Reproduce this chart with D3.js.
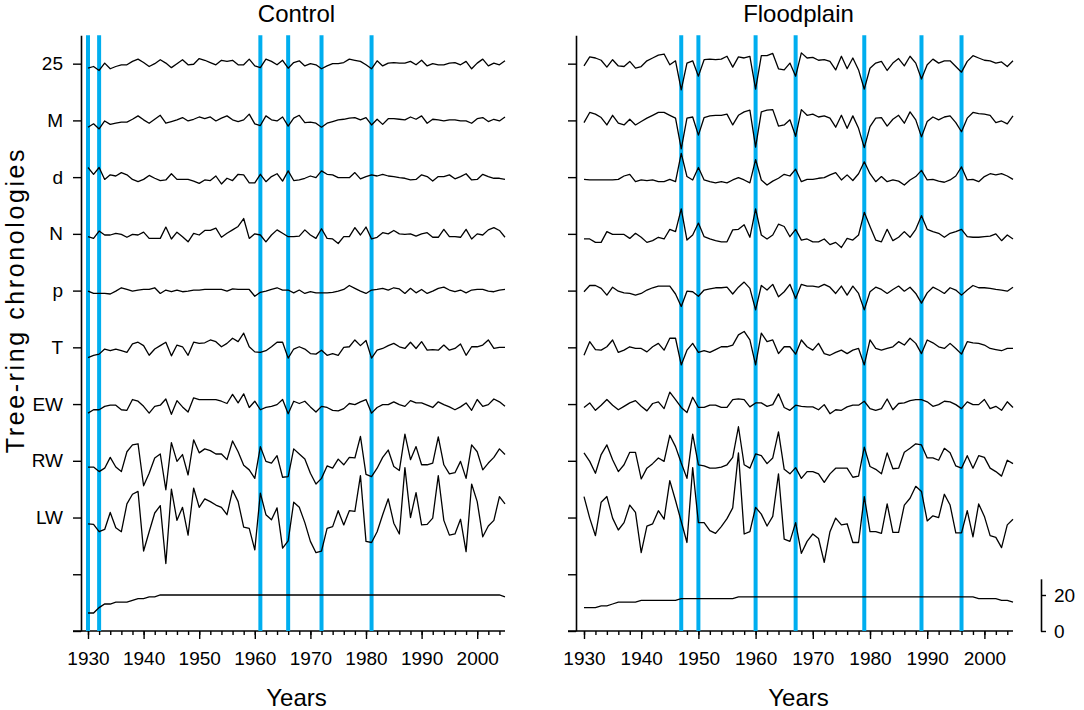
<!DOCTYPE html>
<html>
<head>
<meta charset="utf-8">
<script src="https://cdn.jsdelivr.net/npm/d3@7"></script>
<style>
  body { margin: 0; background: #fff; }
  svg { font-family: "Liberation Sans", Arial, sans-serif; }
</style>
</head>
<body>
<div id="chart"></div>
<script>
// years covered by every chronology
const years = d3.range(1930, 2006);
const chronLabels = ["25", "M", "d", "N", "p", "T", "EW", "RW", "LW"];

// event years marked in blue
const controlEvents = [1930, 1932, 1961, 1966, 1972, 1981];
const floodEvents = [1947, 1950, 1960, 1967, 1979, 1989, 1996];

// Control site chronologies (index values, 1930-2005)
const control25 = [
  0.92,0.95,0.88,1.01,0.91,0.95,0.98,0.98,1.04,1.08,
  1.02,0.95,1.00,1.07,1.01,0.93,1.00,1.07,0.98,0.99,
  1.09,1.06,1.02,0.98,1.06,1.04,1.06,0.98,0.98,1.08,
  0.96,0.93,1.08,1.04,0.98,1.06,0.92,1.02,1.05,0.96,
  1.00,0.98,0.91,0.96,1.00,1.00,1.02,1.08,1.06,1.04,
  0.98,0.91,1.05,0.96,1.01,1.02,1.01,1.01,1.04,0.98,
  1.06,0.96,1.00,0.98,0.98,1.01,1.02,0.98,1.04,0.91,
  1.01,1.08,0.96,1.01,0.98,1.05];
const controlM = [
  0.88,0.94,0.85,0.99,0.93,0.95,0.97,0.97,1.02,1.08,
  1.01,0.95,1.02,1.09,0.95,0.98,1.01,1.05,0.99,1.02,
  1.06,1.03,1.06,0.99,1.04,1.08,1.01,0.98,1.01,1.11,
  0.94,0.91,1.08,1.01,0.99,1.06,0.90,1.04,1.09,0.96,
  0.97,0.95,0.88,0.95,0.98,1.01,1.02,1.04,1.05,1.01,
  1.05,0.92,1.02,0.93,1.03,1.03,1.02,1.01,1.06,1.02,
  1.08,0.95,1.02,1.01,0.99,1.01,1.01,0.99,0.99,0.95,
  1.03,1.05,0.98,1.02,0.99,1.06];
const controlD = [
  1.17,1.05,1.17,0.96,1.04,1.02,1.08,1.04,0.96,0.92,
  0.96,1.03,0.98,0.94,0.95,1.06,0.96,0.96,0.96,0.93,
  0.89,0.95,0.94,1.02,0.88,0.98,0.94,1.05,1.04,0.90,
  0.90,1.05,0.92,1.01,1.06,0.93,1.11,0.94,0.95,0.98,
  1.02,0.99,1.11,1.05,1.04,0.99,0.99,0.99,1.08,0.97,
  1.01,1.04,1.02,1.05,1.02,1.01,0.99,0.98,0.95,0.96,
  1.04,1.01,0.93,1.01,1.01,1.04,0.97,1.01,1.06,0.95,
  0.96,1.05,1.01,0.98,0.98,0.96];
const controlN = [
  0.95,0.92,1.05,0.98,0.98,1.01,0.99,0.94,0.99,0.98,
  1.03,0.92,0.92,0.92,1.12,0.91,1.03,0.95,0.86,1.01,
  0.98,1.06,1.06,1.10,0.94,1.01,1.07,1.13,1.27,0.92,
  1.00,0.98,0.86,0.98,1.07,1.01,0.95,0.95,0.96,1.07,
  0.98,0.92,1.09,0.92,0.91,0.83,0.95,0.95,1.11,0.98,
  1.12,0.91,0.94,1.02,1.00,1.06,1.00,0.99,1.00,0.96,
  1.00,1.02,0.94,0.94,1.08,0.95,0.95,0.94,1.08,0.91,
  1.00,0.98,1.07,1.11,1.06,0.94];
const controlP = [
  0.99,0.95,0.95,0.95,0.94,0.99,1.05,1.02,0.99,1.01,
  1.02,1.02,1.05,0.95,1.01,0.98,1.01,0.98,0.99,1.01,
  1.01,1.02,1.02,1.02,1.02,0.99,1.03,1.02,1.02,1.02,
  0.90,0.97,0.99,1.02,1.05,1.01,1.01,0.96,1.01,0.95,
  0.98,0.96,0.96,0.96,0.97,0.99,1.02,1.09,1.04,0.99,
  0.95,1.01,1.02,1.04,1.01,1.05,1.03,0.95,1.04,0.96,
  1.02,0.95,0.99,1.04,1.06,1.01,0.98,1.01,0.96,1.01,
  1.02,1.02,0.99,0.98,1.01,1.02];
const controlT = [
  0.82,0.86,0.88,0.97,0.94,0.97,0.94,0.91,1.06,1.09,
  1.03,0.86,0.97,1.03,1.09,0.85,1.04,1.01,0.86,1.09,
  1.07,1.08,1.13,1.10,1.01,1.07,1.16,1.10,1.25,1.01,
  0.92,0.91,0.94,1.01,1.09,1.09,0.81,0.97,1.01,0.97,
  0.89,0.88,0.95,0.86,0.89,0.86,1.00,1.01,1.13,1.03,
  1.12,0.81,0.95,0.98,1.03,1.07,1.01,0.98,1.09,0.98,
  1.10,0.95,0.96,0.95,1.04,0.95,0.98,1.06,0.86,1.01,
  1.01,1.04,1.13,0.98,1.00,1.00];
const controlEW = [
  0.84,0.90,0.90,0.96,0.98,0.98,0.90,0.89,1.08,1.05,
  0.96,0.84,0.96,0.98,1.09,0.82,1.06,0.95,0.86,1.11,
  1.08,1.08,1.08,1.08,1.05,1.01,1.17,1.02,1.18,0.94,
  1.05,0.90,0.94,0.96,0.99,1.08,0.83,1.05,1.01,1.05,
  0.95,0.86,0.96,0.94,0.89,0.88,0.92,1.01,0.99,1.04,
  1.08,0.84,0.94,0.99,0.99,1.04,0.99,0.96,1.06,1.02,
  1.02,0.98,0.94,1.04,0.99,0.95,0.90,0.95,1.02,0.89,
  1.08,0.96,0.99,1.09,1.04,0.96];
const controlRW = [
  0.89,0.89,0.81,0.87,1.06,0.89,0.81,1.16,1.28,1.30,
  0.56,0.78,1.05,1.12,0.49,1.32,0.99,1.11,0.75,1.37,
  1.14,1.21,1.18,1.12,1.12,1.02,1.35,1.16,0.92,0.84,
  0.69,1.25,0.99,0.96,1.09,0.71,0.72,1.21,1.12,1.03,
  0.78,0.59,0.69,0.91,0.87,1.03,0.93,1.06,1.05,1.43,
  0.76,0.72,0.87,1.06,1.19,0.90,0.83,1.47,1.02,1.25,
  0.93,0.93,0.96,1.42,0.93,0.77,0.79,0.99,0.69,1.28,
  1.16,0.84,0.96,1.06,1.21,1.11];
const controlLW = [
  0.89,0.88,0.75,0.79,1.09,0.82,0.75,1.24,1.41,1.46,
  0.41,0.75,1.08,1.21,0.19,1.50,0.95,1.18,0.69,1.52,
  1.18,1.33,1.28,1.22,1.18,1.05,1.48,1.28,0.83,0.81,
  0.43,1.43,1.05,0.96,1.17,0.46,0.59,1.27,1.18,0.91,
  0.58,0.38,0.41,0.81,0.84,1.12,0.87,1.12,1.11,1.74,
  0.58,0.56,0.75,1.05,1.33,0.90,0.71,1.88,1.00,1.44,
  0.87,0.88,0.99,1.74,0.95,0.69,0.71,0.97,0.40,1.59,
  1.28,0.66,0.85,0.95,1.37,1.24];
const controlDepth = [
  10,10,13,15,15,16,16,16,17,18,
  18,19,19,20,20,20,20,20,20,20,
  20,20,20,20,20,20,20,20,20,20,
  20,20,20,20,20,20,20,20,20,20,
  20,20,20,20,20,20,20,20,20,20,
  20,20,20,20,20,20,20,20,20,20,
  20,20,20,20,20,20,20,20,20,20,
  20,20,20,20,20,19];

// Floodplain site chronologies (index values, 1930-2005)
const flood25 = [
  0.96,1.12,1.10,1.06,0.94,1.07,0.96,0.95,1.04,0.92,
  0.95,1.05,1.10,1.15,1.17,0.98,1.05,0.54,1.01,1.05,
  0.78,1.07,1.08,1.07,1.08,1.13,0.94,1.12,1.10,1.13,
  0.55,1.14,1.14,1.18,0.91,0.89,1.01,0.78,1.19,1.10,
  1.11,1.06,1.07,1.04,0.89,1.13,0.91,1.10,0.89,0.55,
  0.92,1.01,1.04,0.88,1.01,1.09,0.96,1.13,1.01,0.73,
  0.98,1.08,1.01,1.05,1.05,0.95,0.85,1.04,1.14,1.10,
  1.06,1.05,1.01,1.03,0.95,1.05];
const floodM = [
  0.96,1.14,1.11,1.05,0.92,1.09,0.95,0.92,1.02,0.92,
  0.98,1.04,1.09,1.14,1.14,1.09,1.04,0.50,1.04,1.06,
  0.74,1.05,1.08,1.09,1.09,1.11,0.92,1.09,1.15,1.18,
  0.53,1.15,1.18,1.19,0.90,0.92,1.01,0.72,1.19,1.09,
  1.11,1.06,1.08,1.04,0.88,1.09,0.86,1.08,0.86,0.52,
  0.89,1.04,1.05,0.90,1.02,1.09,0.95,1.15,1.01,0.71,
  0.98,1.06,1.01,1.06,1.08,0.96,0.80,1.04,1.14,1.12,
  1.11,1.09,0.96,0.99,0.94,1.08];
const floodD = [
  0.96,0.95,0.95,0.95,0.95,0.95,0.96,1.02,1.05,0.92,
  0.95,0.94,0.95,0.92,0.92,0.96,0.92,1.42,1.01,0.95,
  1.17,0.95,0.92,0.90,0.92,0.90,0.95,0.99,0.95,0.90,
  1.31,0.95,0.86,0.93,0.98,1.05,1.02,1.14,0.92,0.96,
  0.96,0.98,0.99,1.04,1.08,0.95,1.04,0.94,1.06,1.27,
  1.06,0.92,1.01,0.92,0.95,0.93,0.86,0.95,1.01,1.12,
  0.95,0.96,0.93,0.91,0.95,1.02,1.18,0.95,0.96,0.92,
  1.01,1.06,1.04,1.06,1.02,0.96];
const floodN = [
  0.91,0.91,0.85,0.85,1.04,0.99,0.99,0.99,0.92,1.01,
  0.94,0.85,0.88,0.94,0.91,1.08,1.04,1.44,0.89,0.98,
  1.19,0.95,0.91,0.88,0.86,0.86,1.07,1.08,1.16,0.94,
  1.44,0.98,0.91,0.98,1.17,1.13,0.95,1.08,0.89,0.91,
  0.86,0.86,0.91,0.81,0.85,0.76,0.92,0.89,0.98,1.38,
  1.13,0.89,0.86,1.08,0.88,0.94,1.04,0.94,1.08,1.32,
  1.08,1.04,1.01,0.94,1.01,1.04,1.08,0.95,0.94,0.94,
  0.95,0.96,1.00,0.88,0.98,0.91];
const floodP = [
  0.98,1.09,1.09,1.04,0.92,1.06,0.99,0.96,0.95,0.92,
  0.95,1.01,1.05,1.08,1.08,1.08,0.94,0.72,0.99,0.98,
  0.90,1.01,1.03,1.05,1.05,1.06,0.94,1.06,1.15,1.04,
  0.66,1.09,1.01,1.11,0.89,0.98,1.11,0.86,1.11,1.08,
  1.08,1.06,1.11,1.06,0.95,1.08,0.92,1.08,0.95,0.66,
  0.98,1.06,1.02,0.95,1.02,1.08,0.99,1.06,0.95,0.78,
  0.96,1.06,1.01,0.95,1.05,1.01,0.92,1.01,1.09,1.05,
  1.05,1.04,1.02,1.01,0.99,1.06];
const floodT = [
  0.86,1.10,0.96,0.95,1.01,1.13,0.91,0.95,1.01,0.98,
  0.98,0.92,1.01,1.07,0.95,1.16,1.16,0.69,0.95,1.07,
  0.91,0.94,0.91,0.96,1.01,1.01,1.04,1.22,1.28,1.13,
  0.69,1.25,1.10,1.13,0.89,1.01,1.01,0.88,1.13,1.01,
  0.95,1.07,0.89,0.86,0.91,0.95,0.89,0.95,0.98,0.69,
  1.13,0.98,0.95,0.98,1.01,1.10,1.04,1.16,1.07,0.89,
  1.13,1.08,1.01,0.98,1.07,0.98,0.88,1.10,1.08,1.07,
  1.04,0.98,0.96,0.94,0.98,0.98];
const floodEW = [
  0.94,1.02,0.89,0.98,1.08,0.98,0.90,0.96,1.02,1.06,
  0.96,0.88,1.01,1.04,0.92,1.21,1.08,0.94,0.85,1.12,
  0.94,0.94,0.98,0.98,0.94,0.94,1.08,1.09,1.08,0.95,
  1.02,1.02,0.96,0.99,1.18,0.94,0.89,0.98,0.96,0.95,
  0.95,0.90,0.99,0.83,0.90,0.89,0.95,0.98,0.98,1.05,
  0.92,0.89,0.92,1.09,0.90,1.01,1.02,1.06,1.08,1.08,
  1.04,0.96,0.99,1.05,1.04,0.99,0.92,1.04,0.99,0.99,
  1.08,0.92,0.96,0.89,1.04,0.94];
const floodRW = [
  1.14,0.99,0.78,1.11,1.28,1.02,0.81,0.93,1.15,1.15,
  0.68,0.87,0.95,1.05,0.99,1.45,1.25,0.96,0.69,1.47,
  0.93,0.91,0.87,0.87,0.89,0.93,1.06,1.60,0.93,0.87,
  1.12,1.09,0.95,1.05,1.51,0.85,0.77,0.88,0.69,0.81,
  0.81,0.77,0.62,0.77,0.87,0.87,0.87,0.71,0.73,1.24,
  0.90,0.85,0.77,1.14,0.86,0.87,1.15,1.22,1.30,1.28,
  1.05,1.05,1.01,1.22,1.14,0.91,0.87,1.09,0.87,1.09,
  1.06,0.87,0.81,0.73,1.01,0.95];
const floodLW = [
  1.37,0.99,0.68,1.27,1.37,0.99,0.78,0.91,1.22,1.09,
  0.38,0.85,0.89,1.12,0.97,1.65,1.30,0.93,0.56,1.88,
  0.91,0.91,0.77,0.72,0.84,0.98,1.17,2.14,0.71,0.75,
  1.18,1.06,0.85,1.02,1.77,0.62,0.58,0.91,0.37,0.58,
  0.71,0.63,0.21,0.75,0.99,0.87,0.89,0.56,0.56,1.37,
  0.75,0.75,0.72,1.24,0.74,0.74,1.22,1.34,1.55,1.46,
  0.94,1.03,1.00,1.41,1.22,0.73,0.73,1.12,0.66,1.24,
  1.02,0.68,0.65,0.47,0.87,0.97];
const floodDepth = [
  13,13,13,14,14,15,16,16,16,16,
  17,17,17,17,17,17,17,18,18,18,
  18,18,18,18,18,18,18,19,19,19,
  19,19,19,19,19,19,19,19,19,19,
  19,19,19,19,19,19,19,19,19,19,
  19,19,19,19,19,19,19,19,19,19,
  19,19,19,19,19,19,19,19,19,18,
  18,18,18,17,17,16];

const depthTicks = [0, 20];

const width = 1084, height = 710;
const svg = d3.select("#chart").append("svg")
  .attr("width", width)
  .attr("height", height);

// one tick step per chronology, stacked from the bottom (0 = sample depth baseline)
const y = d3.scaleLinear().domain([0, 10.5]).range([631, 35.3]);
// sample depth shares the bottom band
const depthY = d3.scaleLinear().domain([0, 29]).range([y(0), y(0.92)]);

const panels = [
  { title: "Control", axisX: 81, xRange: [88, 505], events: controlEvents,
    series: [control25, controlM, controlD, controlN, controlP, controlT, controlEW, controlRW, controlLW],
    depth: controlDepth, labels: true, depthAxis: false },
  { title: "Floodplain", axisX: 576, xRange: [584, 1013], events: floodEvents,
    series: [flood25, floodM, floodD, floodN, floodP, floodT, floodEW, floodRW, floodLW],
    depth: floodDepth, labels: false, depthAxis: true }
];

panels.forEach(p => {
  const x = d3.scaleLinear().domain([1930, 2005]).range(p.xRange);
  const g = svg.append("g");

  // y axis with one tick per chronology
  const yAxis = d3.axisLeft(y)
    .tickValues(d3.range(0, 11))
    .tickSize(8)
    .tickSizeOuter(0)
    .tickPadding(10)
    .tickFormat(v => (p.labels && v >= 2) ? chronLabels[10 - v] : "");
  g.append("g")
    .attr("transform", "translate(" + p.axisX + ",0)")
    .call(yAxis)
    .call(a => a.select(".domain").attr("stroke-width", 1.6))
    .call(a => a.selectAll(".tick line").attr("stroke-width", 1.4))
    .call(a => a.selectAll("text").attr("font-size", 19).attr("fill", "#000"));

  // x axis: minor ticks every 2 years, labels every 10
  g.append("g")
    .attr("transform", "translate(0," + y(0) + ")")
    .call(d3.axisBottom(x).tickValues(d3.range(1930, 2005, 2)).tickSize(4).tickFormat(""))
    .call(a => a.select(".domain").remove())
    .call(a => a.selectAll(".tick line").attr("stroke-width", 1.4));
  g.append("g")
    .attr("transform", "translate(0," + y(0) + ")")
    .call(d3.axisBottom(x).tickValues(d3.range(1930, 2001, 10))
      .tickFormat(d3.format("d")).tickSize(8).tickPadding(13))
    .call(a => a.select(".domain").remove())
    .call(a => a.selectAll(".tick line").attr("stroke-width", 1.4))
    .call(a => a.selectAll("text").attr("font-size", 19).attr("fill", "#000"));
  g.append("line")
    .attr("x1", p.axisX - 8).attr("x2", x(2005))
    .attr("y1", y(0)).attr("y2", y(0))
    .attr("stroke", "#000").attr("stroke-width", 1.6);

  // event years
  g.selectAll(".event")
    .data(p.events)
    .enter()
    .append("line")
    .attr("class", "event")
    .attr("x1", d => x(d)).attr("x2", d => x(d))
    .attr("y1", y(0)).attr("y2", y(10.5))
    .attr("stroke", "#00aeef")
    .attr("stroke-width", 4);

  // chronologies, each on its own baseline
  p.series.forEach((vals, k) => {
    const base = 10 - k;
    const line = d3.line()
      .x((d, i) => x(years[i]))
      .y(d => y(base + d - 1));
    g.append("path")
      .datum(vals)
      .attr("fill", "none")
      .attr("stroke", "#000")
      .attr("stroke-width", 1.3)
      .attr("stroke-linejoin", "round")
      .attr("d", line);
  });

  // sample depth
  g.append("path")
    .datum(p.depth)
    .attr("fill", "none")
    .attr("stroke", "#000")
    .attr("stroke-width", 1.3)
    .attr("d", d3.line().x((d, i) => x(years[i])).y(d => depthY(d)));

  if (p.depthAxis) {
    g.append("g")
      .attr("transform", "translate(" + (x(2005) + 28) + ",0)")
      .call(d3.axisRight(depthY).tickValues(depthTicks).tickSize(5).tickSizeOuter(0).tickPadding(8))
      .call(a => a.select(".domain").attr("stroke-width", 1.6))
      .call(a => a.selectAll(".tick line").attr("stroke-width", 1.4))
      .call(a => a.selectAll("text").attr("font-size", 19).attr("fill", "#000"));
  }

  const cx = (x(1930) + x(2005)) / 2;
  g.append("text")
    .attr("x", cx).attr("y", 22)
    .attr("text-anchor", "middle")
    .attr("font-size", 24)
    .text(p.title);
  g.append("text")
    .attr("x", cx).attr("y", 706)
    .attr("text-anchor", "middle")
    .attr("font-size", 24)
    .text("Years");
});

svg.append("text")
  .attr("transform", "translate(24,300) rotate(-90)")
  .attr("text-anchor", "middle")
  .attr("font-size", 25)
  .attr("letter-spacing", 2.6)
  .text("Tree-ring chronologies");
</script>
</body>
</html>
